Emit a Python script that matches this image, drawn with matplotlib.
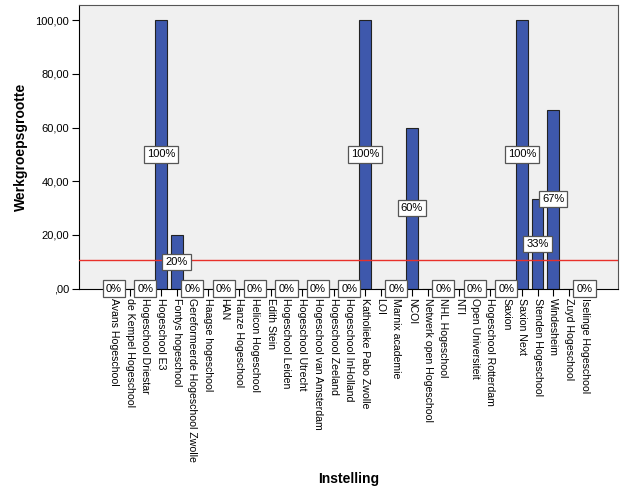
import numpy as np
import matplotlib.pyplot as plt

plt.rcParams['font.family'] = ['Liberation Sans', 'DejaVu Sans']

# Data
instellingen = ['Avans Hogeschool', 'de Kempel Hogeschool', 'Hogeschool Driestar',
                'Hogeschool E3', 'Fontys hogeschool', 'Gereformeerde Hogeschool Zwolle',
                'Haagse hogeschool', 'HAN', 'Hanze Hogeschool', 'Helicon Hogeschool',
                'Edith Stein', 'Hogeschool Leiden', 'Hogeschool Utrecht',
                'Hogeschool van Amsterdam', 'Hogeschool Zeeland', 'Hogeschool InHolland',
                'Katholieke Pabo Zwolle', 'LOI', 'Marnix academie', 'NCOI',
                'Netwerk open Hogeschool', 'NHL Hogeschool', 'NTI', 'Open Universiteit',
                'Hogeschool Rotterdam', 'Saxion', 'Saxion Next', 'Stenden Hogeschool',
                'Windesheim', 'Zuyd Hogeschool', 'Iselinge Hogeschool']
werkgroep = [0, 0, 0, 100, 20, 0, 0, 0, 0, 0, 0, 0, 0, 0, 0, 0,
             100, 0, 0, 60, 0, 0, 0, 0, 0, 0, 100, 33.33, 66.67, 0, 0]
labels = ['0%', '', '0%', '100%', '20%', '0%', '', '0%', '', '0%', '', '0%', '', '0%', '', '0%',
          '100%', '', '0%', '60%', '', '0%', '', '0%', '', '0%', '100%', '33%', '67%', '', '0%']
referentie = 10.7
yticks = [0, 20, 40, 60, 80, 100]
ytick_labels = [',00', '20,00', '40,00', '60,00', '80,00', '100,00']

fig = plt.figure(figsize=(6.26, 5.01), dpi=100)
ax = fig.add_axes([0.126, 0.424, 0.862, 0.566])
ax.set_facecolor('#f0f0f0')

x = np.arange(len(instellingen))
ax.bar(x, werkgroep, width=0.75, color='#3e58ac', edgecolor='#222222', linewidth=0.8, zorder=2)
ax.axhline(referentie, color='#e8302a', linewidth=1, zorder=3)

for xi, v, lab in zip(x, werkgroep, labels):
    if lab:
        ax.text(xi, v / 2, lab, ha='center', va='center', fontsize=8, zorder=5,
                bbox=dict(boxstyle='square,pad=0.28', facecolor='white',
                          edgecolor='#555555', linewidth=0.9))

ax.set_xlim(-2.23, 32.16)
ax.set_ylim(0, 105.7)
ax.set_yticks(yticks)
ax.set_yticklabels(ytick_labels, fontsize=8)
ax.set_xticks(x)
ax.set_xticklabels(instellingen, rotation=270, fontsize=7.6, ha='center', va='top')
ax.tick_params(axis='both', direction='out', length=5, width=0.8, color='black', pad=2)

for side in ['left', 'bottom']:
    ax.spines[side].set_color('black')
for side in ['top', 'right']:
    ax.spines[side].set_color('#555555')

ax.set_ylabel('Werkgroepsgrootte', fontsize=10, fontweight='bold', labelpad=5)
fig.text(0.557, 0.043, 'Instelling', fontsize=10, fontweight='bold', ha='center', va='center')

plt.savefig('out.png', dpi=100)
